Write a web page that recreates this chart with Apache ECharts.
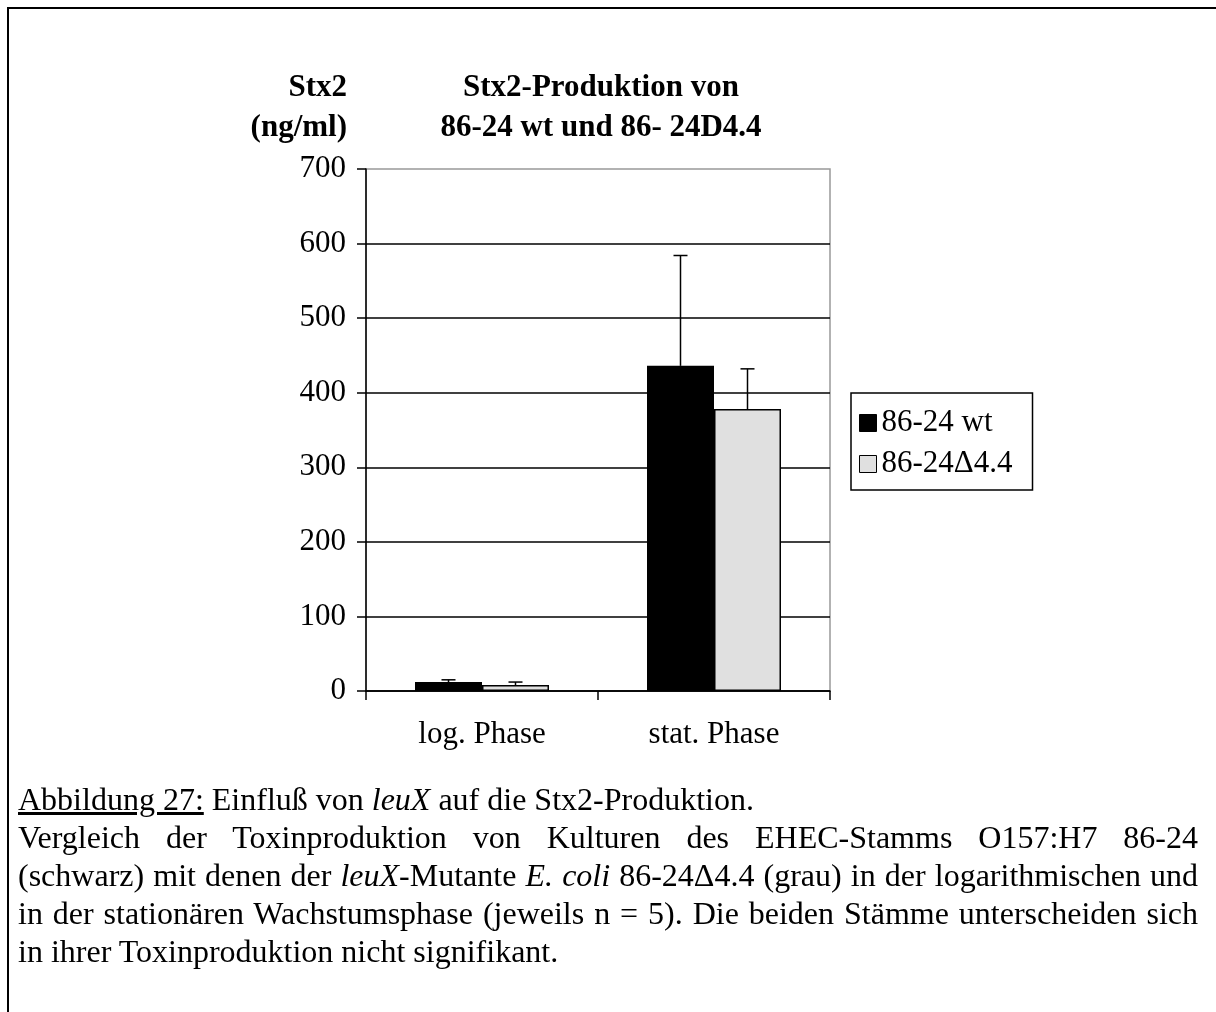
<!DOCTYPE html>
<html>
<head>
<meta charset="utf-8">
<script src="https://cdn.jsdelivr.net/npm/echarts@6/dist/echarts.min.js"></script>
<style>
html,body{margin:0;padding:0;background:#fff;}
#frame{position:absolute;left:7px;top:7px;width:1209px;height:1005px;border-top:2px solid #000;border-left:2px solid #000;box-sizing:border-box;}
#chart{position:absolute;left:0;top:0;width:1216px;height:1012px;}
#caption{position:absolute;left:18px;top:780px;width:1180px;font-family:'Liberation Serif','Times New Roman',serif;font-size:32px;line-height:38px;color:#000;}
#caption div{white-space:normal;}
#caption .j{text-align:justify;text-align-last:justify;}
</style>
</head>
<body>
<div id="frame"></div>
<div id="chart"></div>
<div id="caption">
<div><u>Abbildung 27:</u> Einfluß von <i>leuX</i> auf die Stx2-Produktion.</div>
<div class="j">Vergleich der Toxinproduktion von Kulturen des EHEC-Stamms O157:H7 86-24</div>
<div class="j">(schwarz) mit denen der <i>leuX</i>-Mutante <i>E. coli</i> 86-24Δ4.4 (grau) in der logarithmischen und</div>
<div class="j">in der stationären Wachstumsphase (jeweils n = 5). Die beiden Stämme unterscheiden sich</div>
<div>in ihrer Toxinproduktion nicht signifikant.</div>
</div>
<script>
const categories = ['log. Phase', 'stat. Phase'];
const seriesNames = ['86-24 wt', '86-24Δ4.4'];
const wtValues = [12, 436];
const wtErrors = [3, 148];
const mutValues = [8, 378];
const mutErrors = [4, 54];
const yTicks = [0, 100, 200, 300, 400, 500, 600, 700];
const titleLines = ['Stx2-Produktion von', '86-24 wt und 86- 24D4.4'];
const yNameLines = ['Stx2', '(ng/ml)'];

const FONT = "'Liberation Serif', 'Times New Roman', serif";
const BAR_W = 67;
const CAP = 7;

function errSeries(values, errors, offset) {
  return {
    type: 'custom',
    z: 10,
    silent: true,
    renderItem: function (params, api) {
      const i = api.value(0), v = api.value(1), e = api.value(2);
      const p0 = api.coord([i, v]);
      const p1 = api.coord([i, v + e]);
      const cx = p0[0] + offset;
      return {
        type: 'group',
        children: [
          { type: 'line', shape: { x1: cx, y1: p0[1], x2: cx, y2: p1[1] }, style: { stroke: '#000', lineWidth: 1.5 } },
          { type: 'line', shape: { x1: cx - CAP, y1: p1[1], x2: cx + CAP, y2: p1[1] }, style: { stroke: '#000', lineWidth: 1.5 } }
        ]
      };
    },
    data: categories.map((c, i) => [i, values[i], errors[i]])
  };
}

const chart = echarts.init(document.getElementById('chart'), null, { renderer: 'canvas' });
chart.setOption({
  backgroundColor: 'transparent',
  animation: false,
  title: [
    {
      text: titleLines.join('\n'), left: 601, top: 68, textAlign: 'center', padding: 0,
      textStyle: { fontFamily: FONT, fontWeight: 'bold', fontSize: 31, lineHeight: 40, color: '#000' }
    },
    {
      text: yNameLines.join('\n'), left: 347, top: 68, textAlign: 'right', padding: 0,
      textStyle: { fontFamily: FONT, fontWeight: 'bold', fontSize: 31, lineHeight: 40, color: '#000', align: 'right' }
    }
  ],
  legend: {
    data: seriesNames,
    orient: 'vertical',
    left: 851, top: 393,
    padding: [13, 20, 9, 8],
    itemGap: 7,
    itemWidth: 17, itemHeight: 17,
    icon: 'rect',
    borderColor: '#000', borderWidth: 1.5,
    itemStyle: { borderColor: '#000', borderWidth: 1 },
    textStyle: { fontFamily: FONT, fontSize: 31, color: '#000', lineHeight: 34 }
  },
  grid: { left: 366, top: 169, width: 464, height: 522, show: true, borderColor: '#999', borderWidth: 1.5, backgroundColor: 'transparent' },
  xAxis: {
    type: 'category',
    data: categories,
    boundaryGap: true,
    axisLine: { lineStyle: { color: '#000', width: 1.5 } },
    axisTick: { show: true, length: 9, interval: 0, lineStyle: { color: '#000', width: 1.5 } },
    axisLabel: { color: '#000', fontFamily: FONT, fontSize: 31, margin: 28, interval: 0 },
    splitLine: { show: false }
  },
  yAxis: {
    type: 'value',
    min: yTicks[0], max: yTicks[yTicks.length - 1], interval: 100,
    axisLine: { show: true, lineStyle: { color: '#000', width: 1.5 } },
    axisTick: { show: true, length: 9, lineStyle: { color: '#000', width: 1.5 } },
    axisLabel: { color: '#000', fontFamily: FONT, fontSize: 31, margin: 20, padding: [6, 0, 0, 0] },
    splitLine: { show: true, showMaxLine: false, lineStyle: { color: '#000', width: 1.5 } }
  },
  series: [
    {
      name: seriesNames[0], type: 'bar', data: wtValues, barWidth: BAR_W, barGap: '0%',
      itemStyle: { color: '#000', borderColor: '#000', borderWidth: 1.5 }
    },
    {
      name: seriesNames[1], type: 'bar', data: mutValues, barWidth: BAR_W, barGap: '0%',
      itemStyle: { color: '#e0e0e0', borderColor: '#000', borderWidth: 1.5 }
    },
    errSeries(wtValues, wtErrors, -BAR_W / 2),
    errSeries(mutValues, mutErrors, BAR_W / 2)
  ]
});
</script>
</body>
</html>
